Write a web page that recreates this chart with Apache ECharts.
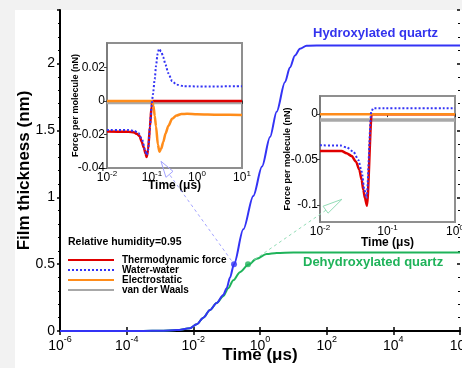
<!DOCTYPE html>
<html>
<head>
<meta charset="utf-8">
<script src="https://cdn.jsdelivr.net/npm/echarts@6/dist/echarts.min.js"></script>
<style>
  html, body {margin: 0; padding: 0; background: #f2f2f2;}
  #paper {position: absolute; left: 15px; top: 10px; right: 0; bottom: 0; background: #fff;}
  #chart {position: absolute; left: 0; top: 0; width: 462px; height: 368px;}
</style>
</head>
<body>
<div id="paper"></div>
<div id="chart"></div>
<script>
// main plot: film thickness (nm) vs time (µs)
const hydroT = [1e-6, 3.2e-4, 1e-3, 3.2e-3, 7.9e-3, 0.0126, 0.02, 0.0316, 0.05, 0.079, 0.1, 0.126, 0.166, 0.316, 0.63, 1.15, 2.0, 3.16, 5.6, 7.9, 11.2, 15.8, 25, 100, 1e6];
const hydroV = [0, 0, 0.002, 0.007, 0.02, 0.05, 0.1, 0.157, 0.21, 0.27, 0.32, 0.4, 0.5, 0.76, 1.01, 1.23, 1.45, 1.64, 1.86, 1.97, 2.06, 2.11, 2.133, 2.135, 2.135];
const dehydT = [1e-6, 3.2e-4, 1e-3, 3.2e-3, 7.9e-3, 0.0126, 0.02, 0.0316, 0.05, 0.079, 0.112, 0.158, 0.25, 0.447, 0.79, 1.58, 3.16, 10, 1e6];
const dehydV = [0, 0, 0.002, 0.007, 0.02, 0.05, 0.1, 0.157, 0.21, 0.26, 0.32, 0.38, 0.44, 0.495, 0.54, 0.575, 0.584, 0.587, 0.587];
const hydroMark = [[0.166, 0.5]];
const dehydMark = [[0.437, 0.5]];
// dashed pointers from the marks to the insets (main-plot data coords)
const hydroPointer = [[0.0020, 1.164], [0.166, 0.5]];
const hydroArrow = [[0.00107, 1.269], [0.00245, 1.194], [0.00151, 1.149], [0.00107, 1.269]];
const dehydPointer = [[95, 0.903], [0.437, 0.5]];
const dehydArrow = [[288, 0.985], [78, 0.933], [110, 0.881], [288, 0.985]];

// inset 1: hydroxylated, force per molecule (nN)
const thermoT1 = [0.01, 0.03, 0.04, 0.046, 0.053, 0.059, 0.066, 0.072, 0.076, 0.082, 0.09, 0.098, 0.102, 0.12, 10];
const thermoV1 = [-0.0183, -0.0184, -0.0188, -0.0196, -0.021, -0.0243, -0.028, -0.0315, -0.0334, -0.029, -0.0153, -0.0034, 0, 0, 0];
const waterT1 = [0.01, 0.03, 0.04, 0.05, 0.06, 0.07, 0.076, 0.082, 0.09, 0.098, 0.105, 0.115, 0.123, 0.133, 0.143, 0.16, 0.178, 0.2, 0.23, 0.28, 0.35, 0.5, 1, 10];
const waterV1 = [-0.0173, -0.0174, -0.0178, -0.0192, -0.023, -0.029, -0.0322, -0.0295, -0.015, -0.003, 0.004, 0.013, 0.021, 0.028, 0.031, 0.0295, 0.026, 0.0215, 0.0165, 0.0118, 0.0097, 0.0088, 0.0086, 0.0087];
const elecT1 = [0.01, 0.1, 0.108, 0.115, 0.123, 0.135, 0.146, 0.16, 0.178, 0.2, 0.23, 0.28, 0.35, 0.45, 0.6, 1, 3, 10];
const elecV1 = [0, 0, -0.003, -0.009, -0.0153, -0.026, -0.0303, -0.0285, -0.0245, -0.0195, -0.015, -0.0107, -0.0087, -0.0078, -0.0077, -0.008, -0.0083, -0.0084];
const vdwT1 = [0.01, 10];
const vdwV1 = [-0.001, -0.001];

// inset 2: dehydroxylated
const thermoT2 = [0.01, 0.0209, 0.0248, 0.0294, 0.0341, 0.0383, 0.0414, 0.0438, 0.0464, 0.0497, 0.0582, 1];
const thermoV2 = [-0.0407, -0.0407, -0.0432, -0.0461, -0.0524, -0.0615, -0.0725, -0.0835, -0.0927, -0.1011, 0, 0];
const waterT2 = [0.01, 0.02, 0.0248, 0.0312, 0.037, 0.0414, 0.0454, 0.049, 0.0575, 0.0617, 1];
const waterV2 = [-0.0344, -0.0346, -0.0366, -0.0414, -0.0505, -0.0634, -0.0835, -0.0927, 0.0026, 0.0066, 0.0066];
const elecT2 = [0.01, 1];
const elecV2 = [0, 0];
const vdwT2 = [0.01, 1];
const vdwV2 = [-0.0066, -0.0066];

const mainYTicks = [0, 0.5, 1, 1.5, 2];
const inset1YTicks = [-0.04, -0.02, 0, 0.02];
const inset2YTicks = [-0.1, -0.05, 0];
const legendNames = ['Thermodynamic force', 'Water-water', 'Electrostatic', 'van der Waals'];

const FONT = 'Liberation Sans, Arial, sans-serif';
const RED = '#e00000', BLUE = '#3333f5', ORANGE = '#ff8c1a', GRAY = '#a8a8a8', GREEN = '#1fb35a';

const zip = (xs, ys) => xs.map((x, i) => [x, ys[i]]);
const pow10 = v => '{b|10}{s|' + Math.round(Math.log10(v)) + '}';
const powRich = (fs, lh, slh) => ({
  b: {fontSize: fs, lineHeight: lh, verticalAlign: 'bottom', fontFamily: FONT, color: '#000'},
  s: {fontSize: Math.round(fs * 0.65), lineHeight: slh, verticalAlign: 'top', fontFamily: FONT, color: '#000'}
});

const chart = echarts.init(document.getElementById('chart'), null, {renderer: 'canvas'});

const insetGrid = (left, top, width, height) => ({
  left, top, width, height, outerBoundsMode: 'none', show: true, backgroundColor: '#fff',
  borderColor: '#8f8f8f', borderWidth: 2
});

const insetX = (gridIndex, min, max, split, nameGap) => ({
  gridIndex, type: 'log', logBase: 10, min, max, splitNumber: split,
  name: 'Time (μs)', nameLocation: 'middle', nameGap, nameMoveOverlap: false,
  nameTextStyle: {fontFamily: FONT, fontWeight: 'bold', fontSize: 12, color: '#000'},
  axisLine: {lineStyle: {color: '#333', width: 1.5}},
  axisTick: {length: 3, lineStyle: {color: '#333'}},
  axisLabel: {formatter: pow10, rich: powRich(12, 14, 7), margin: 2, hideOverlap: false},
  splitLine: {show: false}, minorTick: {show: false}
});

const insetY = (gridIndex, min, max, ticks, labelFmt, nameGap) => ({
  gridIndex, type: 'value', min, max,
  name: 'Force per molecule (nN)', nameLocation: 'middle', nameGap, nameRotate: 90, nameMoveOverlap: false,
  nameTextStyle: {fontFamily: FONT, fontWeight: 'bold', fontSize: 9, color: '#000'},
  axisLine: {show: true, lineStyle: {color: '#777', width: 1.5}},
  axisTick: {show: true, length: 3, customValues: ticks, lineStyle: {color: '#444'}},
  axisLabel: {customValues: ticks, formatter: labelFmt, fontFamily: FONT, fontSize: 12, color: '#000', margin: 2},
  splitLine: {show: false}
});

const fLine = (name, x, y, t, v, color, width, type, z) => ({
  name, type: 'line', xAxisIndex: x, yAxisIndex: y, data: zip(t, v),
  symbol: 'none', smooth: 0.25, smoothMonotone: 'x', z,
  lineStyle: {color, width, type}, itemStyle: {color}
});

chart.setOption({
  animation: false,
  textStyle: {fontFamily: FONT},
  grid: [
    {left: 60, top: 10, width: 400, height: 321, outerBoundsMode: 'none'},
    insetGrid(107, 43, 135, 125),
    insetGrid(320, 96, 135, 126)
  ],
  title: {
    text: 'Relative humidity=0.95', left: 68, top: 237, padding: 0,
    textStyle: {fontFamily: FONT, fontWeight: 'bold', fontSize: 10.5, color: '#000'}
  },
  legend: {
    data: legendNames, orient: 'vertical', left: 67, top: 255, padding: 0,
    itemWidth: 46, itemHeight: 12, itemGap: 0, selectedMode: false,
    itemStyle: {opacity: 0},
    textStyle: {fontFamily: FONT, fontWeight: 'bold', fontSize: 10, color: '#000', padding: [0, 0, 0, 3]}
  },
  graphic: [
    {type: 'text', left: 313, top: 27, style: {text: 'Hydroxylated quartz', fill: '#3333ee', font: 'bold 13px ' + FONT}},
    {type: 'text', left: 303, top: 256, style: {text: 'Dehydroxylated quartz', fill: GREEN, font: 'bold 13px ' + FONT}}
  ],
  xAxis: [
    {
      gridIndex: 0, type: 'log', logBase: 10, min: 1e-6, max: 1e6, splitNumber: 6, interval: 2,
      name: 'Time (μs)', nameLocation: 'middle', nameGap: 16, nameMoveOverlap: false,
      nameTextStyle: {fontFamily: FONT, fontWeight: 'bold', fontSize: 17, color: '#000'},
      axisLine: {lineStyle: {color: '#000', width: 2}},
      axisTick: {length: 4, lineStyle: {color: '#000', width: 1.5}},
      axisLabel: {formatter: pow10, rich: powRich(14, 18, 10), margin: 4, hideOverlap: false},
      splitLine: {show: false}
    },
    {
      gridIndex: 0, type: 'log', logBase: 10, min: 1e-6, max: 1e6, position: 'top',
      axisLine: {lineStyle: {color: '#000', width: 2}},
      axisTick: {show: false}, axisLabel: {show: false}, splitLine: {show: false}
    },
    {
      gridIndex: 0, type: 'log', logBase: 10, min: 1e-6, max: 1e6, splitNumber: 6, interval: 2, position: 'bottom',
      axisLine: {show: false},
      axisTick: {inside: true, length: 4, lineStyle: {color: '#000', width: 1.5}},
      axisLabel: {show: false}, splitLine: {show: false}
    },
    insetX(1, 0.01, 10, 3, 12),
    insetX(2, 0.01, 1, 2, 15)
  ],
  yAxis: [
    {
      gridIndex: 0, type: 'value', min: 0, max: 2.4, interval: 0.5,
      name: 'Film thickness (nm)', nameLocation: 'middle', nameGap: 27, nameRotate: 90, nameMoveOverlap: false,
      nameTextStyle: {fontFamily: FONT, fontWeight: 'bold', fontSize: 17, color: '#000'},
      axisLine: {show: true, lineStyle: {color: '#000', width: 2}},
      axisTick: {show: true, length: 3, lineStyle: {color: '#000', width: 1.5}},
      minorTick: {show: true, splitNumber: 5, length: 2, lineStyle: {color: '#000'}},
      axisLabel: {customValues: mainYTicks, fontFamily: FONT, fontSize: 14, color: '#000', margin: 5},
      splitLine: {show: false}, minorSplitLine: {show: false}
    },
    {
      gridIndex: 0, type: 'value', min: 0, max: 2.4, interval: 0.5,
      axisLine: {show: false},
      axisTick: {show: true, inside: true, length: 3, lineStyle: {color: '#000', width: 1.5}},
      minorTick: {show: true, splitNumber: 5, length: 2, lineStyle: {color: '#000'}},
      axisLabel: {show: false}, splitLine: {show: false}
    },
    insetY(1, -0.04, 0.0345, inset1YTicks, v => v === 0 ? '0' : v.toFixed(2), 27),
    insetY(2, -0.119, 0.02, inset2YTicks, v => v === 0 ? '0' : String(v), 28)
  ],
  series: [
    // main curves
    {
      name: 'Hydroxylated quartz', type: 'line', xAxisIndex: 0, yAxisIndex: 0,
      data: zip(hydroT, hydroV), symbol: 'none', smooth: 0.3, smoothMonotone: 'x',
      lineStyle: {color: BLUE, width: 2}, z: 3
    },
    {
      name: 'Dehydroxylated quartz', type: 'line', xAxisIndex: 0, yAxisIndex: 0,
      data: zip(dehydT, dehydV), symbol: 'none', smooth: 0.3, smoothMonotone: 'x',
      lineStyle: {color: GREEN, width: 2}, z: 2
    },
    {type: 'line', xAxisIndex: 0, yAxisIndex: 0, data: hydroPointer, symbol: 'none',
      lineStyle: {color: '#a3a3ff', width: 1, type: [3, 3]}, z: 4},
    {type: 'line', xAxisIndex: 0, yAxisIndex: 0, data: hydroArrow, symbol: 'none',
      lineStyle: {color: '#a3a3ff', width: 1}, z: 4},
    {type: 'line', xAxisIndex: 0, yAxisIndex: 0, data: dehydPointer, symbol: 'none',
      lineStyle: {color: '#93dcb6', width: 1, type: [3, 3]}, z: 4},
    {type: 'line', xAxisIndex: 0, yAxisIndex: 0, data: dehydArrow, symbol: 'none',
      lineStyle: {color: '#93dcb6', width: 1}, z: 4},
    {type: 'scatter', xAxisIndex: 0, yAxisIndex: 0, data: hydroMark, symbolSize: 6,
      itemStyle: {color: BLUE}, z: 5},
    {type: 'scatter', xAxisIndex: 0, yAxisIndex: 0, data: dehydMark, symbolSize: 6,
      itemStyle: {color: GREEN}, z: 5},
    // inset 1
    fLine('van der Waals', 3, 2, vdwT1, vdwV1, GRAY, 3.5, 'solid', 2),
    fLine('Thermodynamic force', 3, 2, thermoT1, thermoV1, RED, 2.5, 'solid', 3),
    fLine('Electrostatic', 3, 2, elecT1, elecV1, ORANGE, 2.5, 'solid', 4),
    fLine('Water-water', 3, 2, waterT1, waterV1, BLUE, 2, 'dotted', 5),
    // inset 2
    fLine('van der Waals', 4, 3, vdwT2, vdwV2, GRAY, 3.5, 'solid', 2),
    fLine('Thermodynamic force', 4, 3, thermoT2, thermoV2, RED, 2.5, 'solid', 3),
    fLine('Electrostatic', 4, 3, elecT2, elecV2, ORANGE, 2.5, 'solid', 4),
    fLine('Water-water', 4, 3, waterT2, waterV2, BLUE, 2, 'dotted', 5)
  ]
});
</script>
</body>
</html>
